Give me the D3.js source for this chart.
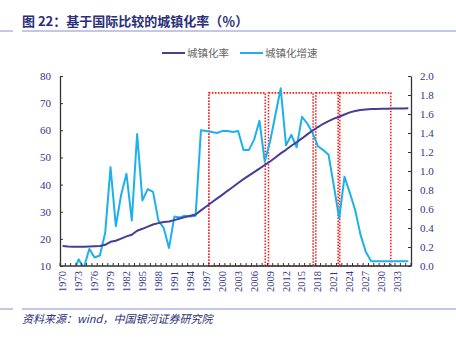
<!DOCTYPE html>
<html>
<head>
<meta charset="utf-8">
<script src="https://cdn.jsdelivr.net/npm/d3@7"></script>
<style>
  body { margin: 0; background: #fff; }
  svg text { font-family: "Liberation Serif", "Times New Roman", serif; }
  .cjk { font-family: "Noto Sans CJK SC", sans-serif; }
</style>
</head>
<body>
<div id="chart"></div>
<script>
// years on the category axis
var years = d3.range(1970, 2036);

// urbanization rate (%), left axis
var urbanRate = [
  17.4, 17.2, 17.1, 17.1, 17.1, 17.2, 17.3, 17.4, 17.8, 18.9,
  19.3, 20.1, 20.9, 21.5, 23.0, 23.7, 24.5, 25.3, 25.8, 26.2,
  26.4, 26.9, 27.5, 28.0, 28.5, 29.0, 30.5, 31.9, 33.4, 34.8,
  36.2, 37.7, 39.1, 40.6, 42.0, 43.3, 44.6, 45.9, 47.2, 48.5,
  50.0, 51.5, 52.8, 54.3, 55.6, 57.0, 58.5, 59.9, 61.2, 62.4,
  63.4, 64.3, 65.0, 65.8, 66.6, 67.1, 67.5, 67.7, 67.8, 67.85,
  67.9, 67.95, 68.0, 68.0, 68.05, 68.1
];

// yearly change of the rate, right axis
var urbanGrowth = [
  -0.1, -0.1, -0.07, 0.07, -0.02, 0.18, 0.09, 0.11, 0.35, 1.04,
  0.42, 0.75, 0.97, 0.48, 1.39, 0.69, 0.81, 0.78, 0.48, 0.40,
  0.19, 0.52, 0.51, 0.53, 0.52, 0.53, 1.43, 1.42, 1.41, 1.40,
  1.42, 1.42, 1.41, 1.42, 1.22, 1.22, 1.33, 1.53, 1.10, 1.31,
  1.59, 1.87, 1.27, 1.38, 1.25, 1.57, 1.50, 1.40, 1.26, 1.22,
  1.17, 0.84, 0.50, 0.94, 0.77, 0.59, 0.33, 0.15, 0.05, 0.05,
  0.05, 0.05, 0.05, 0.05, 0.05, 0.05
];

var leftTicks = [10, 20, 30, 40, 50, 60, 70, 80];
var rightTicks = [0, 0.2, 0.4, 0.6, 0.8, 1.0, 1.2, 1.4, 1.6, 1.8, 2.0];
var yearLabels = years.filter(function(y) { return (y - 1970) % 3 === 0; });

// dotted stage boxes: [start year, end year, top on left axis]
var stageBoxes = [
  [1998.0, 2008.6, 73.8],
  [2009.2, 2017.6, 73.8],
  [2018.1, 2022.3, 73.8],
  [2022.6, 2032.2, 73.8]
];

var svgWidth = 456;
var svgHeight = 339;

var margin = { top: 76, right: 45, bottom: 73, left: 60 };
var width = svgWidth - margin.left - margin.right;
var height = svgHeight - margin.top - margin.bottom;

var svg = d3.select("#chart")
  .append("svg")
  .attr("width", svgWidth)
  .attr("height", svgHeight);

// title and rules
svg.append("text")
  .attr("class", "cjk")
  .attr("x", 22)
  .attr("y", 26)
  .attr("font-size", 13)
  .attr("font-weight", "bold")
  .attr("fill", "#2a2f78")
  .text("图 22：基于国际比较的城镇化率（％）");

[31, 309].forEach(function(y) {
  svg.append("line").attr("x1", 0).attr("x2", 13).attr("y1", y).attr("y2", y)
    .attr("stroke", "#8c8cd0").attr("stroke-width", 1);
  svg.append("line").attr("x1", 22).attr("x2", 456).attr("y1", y).attr("y2", y)
    .attr("stroke", "#8c8cd0").attr("stroke-width", 1);
});

svg.append("text")
  .attr("class", "cjk")
  .attr("x", 22)
  .attr("y", 323)
  .attr("font-size", 11)
  .attr("font-style", "italic")
  .attr("fill", "#2a2f78")
  .text("资料来源：wind，中国银河证券研究院");

// legend
var legend = [
  { name: "城镇化率", color: "#473c98", x: 162 },
  { name: "城镇化增速", color: "#1cb1ea", x: 240 }
];
legend.forEach(function(d) {
  svg.append("line")
    .attr("x1", d.x).attr("x2", d.x + 23)
    .attr("y1", 53).attr("y2", 53)
    .attr("stroke", d.color).attr("stroke-width", 2);
  svg.append("text")
    .attr("class", "cjk")
    .attr("x", d.x + 25)
    .attr("y", 57)
    .attr("font-size", 10.5)
    .attr("fill", "#666")
    .text(d.name);
});

var chartGroup = svg.append("g")
  .attr("transform", `translate(${margin.left}, ${margin.top})`);

// Step 1: scales
var xBand = d3.scaleBand().domain(years).range([0, width]).paddingInner(0).paddingOuter(0);
var xYear = d3.scaleLinear().domain([1970, 2036]).range([0, width]);
var yLeft = d3.scaleLinear().domain([10, 80]).range([height, 0]);
var yRight = d3.scaleLinear().domain([0, 2]).range([height, 0]);

chartGroup.append("clipPath")
  .attr("id", "plotClip")
  .append("rect")
  .attr("x", 0).attr("y", -2).attr("width", width).attr("height", height + 2);

// Step 2: stage boxes
stageBoxes.forEach(function(b) {
  chartGroup.append("rect")
    .attr("x", xYear(b[0]))
    .attr("y", yLeft(b[2]))
    .attr("width", xYear(b[1]) - xYear(b[0]))
    .attr("height", height - yLeft(b[2]))
    .attr("fill", "none")
    .attr("stroke", "#ff1a1a")
    .attr("stroke-width", 1.6)
    .attr("stroke-dasharray", "1.6,1.4");
});

// Step 3: lines
var cx = function(i) { return xBand(years[i]) + xBand.bandwidth() / 2; };

var growthLine = d3.line()
  .x(function(d, i) { return cx(i); })
  .y(function(d) { return yRight(d); });

var rateLine = d3.line()
  .x(function(d, i) { return cx(i); })
  .y(function(d) { return yLeft(d); });

chartGroup.append("path")
  .datum(urbanGrowth)
  .attr("clip-path", "url(#plotClip)")
  .attr("d", growthLine)
  .attr("fill", "none")
  .attr("stroke", "#1cb1ea")
  .attr("stroke-width", 2)
  .attr("stroke-linejoin", "round");

chartGroup.append("path")
  .datum(urbanRate)
  .attr("d", rateLine)
  .attr("fill", "none")
  .attr("stroke", "#473c98")
  .attr("stroke-width", 2)
  .attr("stroke-linejoin", "round");

// Step 4: axes
var axisColor = "#333";
var labelColor = "#34348a";

var leftAxis = d3.axisLeft(yLeft).tickValues(leftTicks).tickSizeInner(-3).tickSizeOuter(0)
  .tickPadding(9).tickFormat(d3.format("d"));
var gl = chartGroup.append("g").call(leftAxis);

var rightAxis = d3.axisRight(yRight).tickValues(rightTicks).tickSizeInner(-3).tickSizeOuter(0)
  .tickPadding(9).tickFormat(d3.format(".1f"));
var gr = chartGroup.append("g").attr("transform", `translate(${width}, 0)`).call(rightAxis);

[gl, gr].forEach(function(g) {
  g.select(".domain").attr("stroke", axisColor).attr("stroke-width", 1.3);
  g.selectAll(".tick line").attr("stroke", axisColor);
  g.selectAll(".tick text")
    .attr("fill", labelColor)
    .attr("font-size", 11)
    .attr("font-family", "Liberation Serif, Times New Roman, serif");
});

// bottom axis: tick marks on category edges, labels every third year
chartGroup.append("line")
  .attr("x1", 0).attr("x2", width)
  .attr("y1", height).attr("y2", height)
  .attr("stroke", axisColor).attr("stroke-width", 1.3);

chartGroup.selectAll(".xtick")
  .data(d3.range(years.length + 1))
  .enter()
  .append("line")
  .attr("class", "xtick")
  .attr("x1", function(i) { return i * xBand.bandwidth(); })
  .attr("x2", function(i) { return i * xBand.bandwidth(); })
  .attr("y1", height)
  .attr("y2", height - 3)
  .attr("stroke", axisColor)
  .attr("stroke-width", 1);

chartGroup.selectAll(".xlabel")
  .data(yearLabels)
  .enter()
  .append("text")
  .attr("class", "xlabel")
  .attr("transform", function(d) {
    return `translate(${xBand(d) + xBand.bandwidth() / 2 + 3.5}, ${height + 5}) rotate(-90)`;
  })
  .attr("text-anchor", "end")
  .attr("font-size", 10.5)
  .attr("fill", labelColor)
  .text(function(d) { return d; });
</script>
</body>
</html>
